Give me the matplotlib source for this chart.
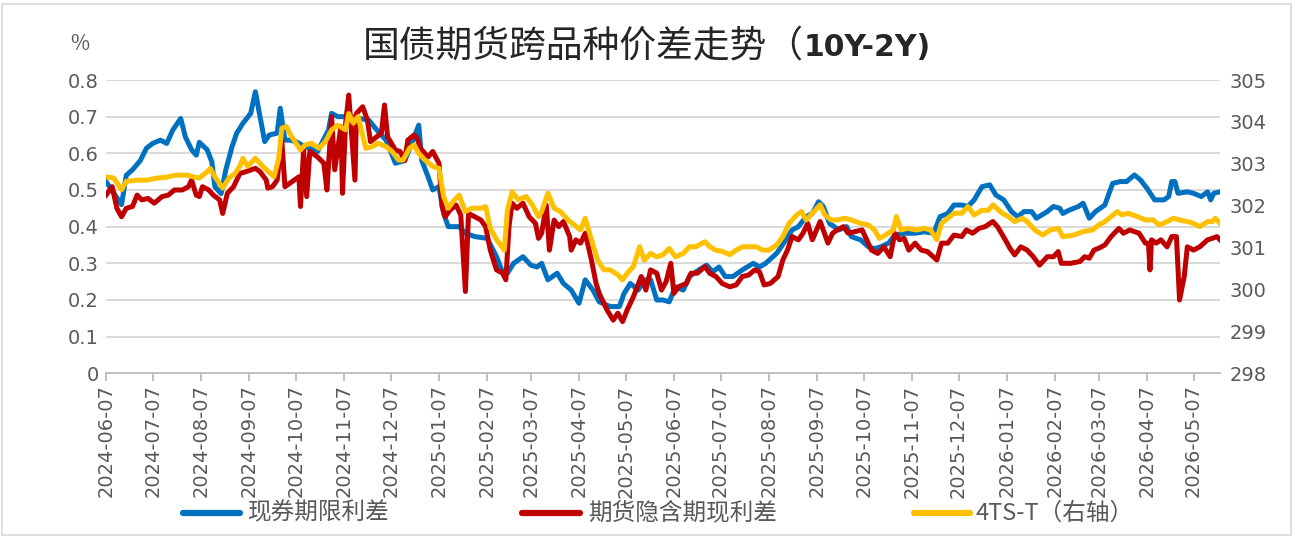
import matplotlib
matplotlib.use('Agg')
import matplotlib.pyplot as plt
import matplotlib.dates as mdates
import matplotlib.ticker as mticker
import pandas as pd
import numpy as np
from matplotlib.lines import Line2D
from matplotlib.patches import Rectangle

plt.rcParams['font.family'] = ['Noto Sans CJK SC', 'DejaVu Sans']

# ---------------- data ----------------
START = '2024-06-07'   # day offsets below are calendar days from this date
X_END = '2026-05-24'

series_names = ['现券期限利差', '期货隐含期现利差', '4TS-T（右轴）']

blue_days = [0, 10, 13, 17, 22, 26, 30, 35, 39, 43, 48, 51, 55, 58, 60, 65, 68, 70, 74, 77,
             81, 84, 88, 93, 96, 99, 102, 105, 110, 112, 115, 118,
             122, 128, 136, 143, 145, 149, 158, 169, 174, 180, 186, 192, 197, 201, 203, 207,
             210, 214, 217, 220, 227, 231, 237,
             245, 251, 256, 258, 262, 268, 273, 277, 280, 284, 290, 294, 299, 304, 308, 313,
             317, 324, 330, 333, 337, 342, 346, 350, 354,
             358, 362, 366, 371, 375, 381, 386, 390, 394, 398, 403, 409, 416, 420, 424, 431,
             437, 441, 445, 450, 454, 458, 461, 465, 471, 476,
             479, 485, 490, 494, 498, 503, 507, 513, 520, 526, 532, 536, 541, 545, 550, 554,
             558, 563, 568, 572, 577, 582, 586, 590, 595,
             598, 605, 609, 613, 615, 619, 625, 628, 632, 636, 642, 647, 652, 656, 661, 665,
             669, 674, 680, 683, 685, 687, 689, 695, 699, 704, 708, 710, 712, 716]
blue_vals = [0.523, 0.46, 0.54, 0.555, 0.58, 0.614, 0.627, 0.636, 0.627, 0.664, 0.695, 0.645,
             0.61, 0.595, 0.63, 0.61, 0.577, 0.509, 0.49, 0.555,
             0.618, 0.655, 0.682, 0.709, 0.768, 0.70, 0.632, 0.65, 0.655, 0.723, 0.636, 0.636,
             0.632, 0.618, 0.605, 0.664, 0.709, 0.70, 0.70, 0.69, 0.664, 0.636, 0.573, 0.58,
             0.632, 0.677, 0.58, 0.536,
             0.50, 0.509, 0.436, 0.40, 0.40, 0.382, 0.373,
             0.368, 0.318, 0.264, 0.273, 0.30, 0.318, 0.295, 0.29, 0.30, 0.255, 0.273, 0.245,
             0.227, 0.191, 0.255, 0.227,
             0.195, 0.182, 0.182, 0.218, 0.245, 0.227, 0.255, 0.255, 0.20,
             0.20, 0.195, 0.236, 0.227, 0.264, 0.282, 0.295, 0.277, 0.29, 0.264, 0.264, 0.282,
             0.30, 0.29, 0.30, 0.327,
             0.364, 0.391, 0.40, 0.427, 0.436, 0.468, 0.455, 0.409, 0.391, 0.40,
             0.373, 0.364, 0.345, 0.34, 0.345, 0.355, 0.377, 0.382, 0.382, 0.386, 0.382, 0.427,
             0.436, 0.459, 0.459, 0.455,
             0.473, 0.509, 0.514, 0.486, 0.473, 0.441, 0.427, 0.441, 0.441,
             0.423, 0.441, 0.455, 0.45, 0.436, 0.445, 0.455, 0.464, 0.423, 0.441, 0.459, 0.518,
             0.523, 0.523, 0.541, 0.527,
             0.505, 0.473, 0.473, 0.482, 0.523, 0.523, 0.491, 0.495, 0.491, 0.482, 0.495, 0.473,
             0.491, 0.495]

red_days = [0, 4, 7, 10, 13, 17, 20, 23, 27, 31, 36, 40, 44, 49, 53, 55, 58, 60, 62, 66,
            69, 73, 75, 78, 82, 86, 90, 96, 99, 103, 104, 107, 110, 113, 115, 118,
            124, 125, 127, 129, 131, 136, 140, 142, 145, 147, 151, 152, 154, 156, 158, 160,
            161, 165, 168, 170, 174, 177, 179, 181, 186, 189, 192, 194, 198, 200, 202, 207,
            210, 214, 216, 218, 221, 225, 228, 231, 233, 237,
            241, 244, 247, 251, 255, 257, 259, 261, 264, 268, 272, 276, 278, 280, 283, 285,
            288, 291, 294, 298, 299, 302, 305, 308, 312, 315, 317, 322, 326, 329, 332, 335,
            339, 344, 347, 350, 354,
            357, 360, 363, 365, 368, 373, 376, 380, 385, 388, 392, 396, 401, 405, 409, 413,
            417, 420, 423, 427, 432, 435, 438, 441, 445, 448, 451, 454, 459, 461, 464, 467,
            470, 474,
            477, 481, 486, 492, 496, 500, 504, 507, 510, 513, 516, 520, 524, 528, 534, 537,
            541, 545, 550, 553, 557, 561, 565, 570, 573, 578, 581, 584, 588,
            592, 596, 600, 605, 609, 612, 614, 620, 626, 629, 632, 635, 638, 642, 646, 651,
            654, 658, 664, 668, 670, 671, 672, 675, 678, 682, 685, 688, 690, 693, 695, 699,
            703, 708, 711, 714, 716]
red_vals = [0.486, 0.509, 0.45, 0.427, 0.45, 0.455, 0.486, 0.473, 0.477, 0.464, 0.482, 0.486,
            0.50, 0.50, 0.509, 0.527, 0.486, 0.482, 0.509, 0.50,
            0.486, 0.473, 0.436, 0.491, 0.509, 0.545, 0.55, 0.559, 0.55, 0.527, 0.505, 0.509,
            0.527, 0.636, 0.509, 0.518,
            0.536, 0.455, 0.609, 0.482, 0.605, 0.59, 0.573, 0.50, 0.70, 0.555, 0.673, 0.491,
            0.682, 0.759, 0.641, 0.527,
            0.709, 0.727, 0.691, 0.632, 0.645, 0.655, 0.732, 0.645, 0.609, 0.605, 0.58, 0.636,
            0.65, 0.641, 0.614, 0.59,
            0.605, 0.573, 0.455, 0.427, 0.445, 0.459, 0.432, 0.223, 0.436, 0.427,
            0.418, 0.40, 0.336, 0.282, 0.273, 0.255, 0.40, 0.464, 0.45, 0.464, 0.427, 0.409,
            0.368, 0.382, 0.459, 0.336,
            0.418, 0.40, 0.414, 0.373, 0.336, 0.364, 0.355, 0.382, 0.309, 0.245, 0.218, 0.173,
            0.145, 0.164, 0.141, 0.173,
            0.209, 0.264, 0.227, 0.282, 0.273,
            0.227, 0.25, 0.30, 0.218, 0.236, 0.245, 0.273, 0.273, 0.291, 0.273, 0.264, 0.245,
            0.236, 0.241, 0.264, 0.268,
            0.282, 0.277, 0.241, 0.245, 0.264, 0.309, 0.336, 0.373, 0.364, 0.382, 0.409, 0.364,
            0.414, 0.391, 0.355, 0.382,
            0.391, 0.40,
            0.382, 0.386, 0.391, 0.336, 0.327, 0.345, 0.318, 0.382, 0.364, 0.368, 0.336, 0.355,
            0.336, 0.332, 0.309, 0.355,
            0.355, 0.377, 0.373, 0.391, 0.382, 0.395, 0.40, 0.414, 0.40, 0.364, 0.341, 0.323,
            0.345,
            0.336, 0.318, 0.295, 0.318, 0.318, 0.332, 0.30, 0.30, 0.305, 0.318, 0.314, 0.336,
            0.341, 0.35, 0.373, 0.395,
            0.382, 0.391, 0.382, 0.355, 0.355, 0.282, 0.364, 0.355, 0.364, 0.345, 0.373, 0.373,
            0.20, 0.264, 0.345, 0.336,
            0.345, 0.364, 0.368, 0.373, 0.364]

yellow_days = [0, 5, 10, 13, 20, 26, 33, 39, 45, 52, 56, 60, 65, 67, 70, 75, 79, 83, 86, 88,
               91, 96, 99, 103, 108, 111, 113, 116, 118,
               120, 125, 128, 132, 137, 141, 145, 149, 154, 156, 159, 162, 167, 171, 175, 180,
               184, 188, 191, 195, 198, 201, 205, 210, 214, 217, 220, 224, 227, 231, 235,
               241, 244, 247, 251, 256, 258, 261, 265, 270, 274, 278, 280, 284, 288, 292, 297,
               301, 305, 308, 312, 316, 320, 324, 329, 332, 335, 339, 343, 346, 350, 354,
               358, 362, 366, 371, 375, 379, 385, 388, 392, 396, 401, 405, 409, 413, 418, 422,
               426, 431, 435, 439, 444, 447, 450, 454, 459, 462, 466, 470, 475,
               479, 485, 490, 494, 497, 501, 506, 508, 511, 515, 521, 526, 530, 534, 537, 541,
               545, 550, 554, 558, 563, 567, 570, 576, 580, 584, 589,
               592, 597, 602, 607, 612, 615, 622, 628, 634, 638, 642, 646, 650, 653, 657, 663,
               668, 673, 677, 682, 686, 690, 695, 699, 703, 708, 711, 713, 716]
yellow_vals = [302.69, 302.66, 302.38, 302.58, 302.61, 302.61, 302.66, 302.68, 302.73, 302.73,
               302.69, 302.66, 302.81, 302.89, 302.69, 302.42, 302.66, 302.77, 302.94, 303.13,
               302.94, 303.13, 303.01, 302.86, 302.69, 303.13, 303.85, 303.89, 303.73,
               303.61, 303.33, 303.45, 303.49, 303.37, 303.53, 303.81, 303.92, 303.81, 304.20,
               303.97, 304.13, 303.37, 303.41, 303.49, 303.41,
               303.29, 303.09, 303.09, 303.37, 303.45, 303.25, 303.09, 302.94, 302.89, 302.22,
               301.94, 302.14, 302.25, 301.86, 301.94,
               301.94, 301.98, 301.46, 301.19, 300.94, 301.89, 302.33, 302.14, 302.22, 302.02,
               301.74, 301.86, 302.30, 301.94, 301.86, 301.66,
               301.54, 301.42, 301.70, 301.19, 300.70, 300.47, 300.47, 300.35, 300.23, 300.39,
               300.55, 301.02, 300.70, 300.86, 300.78,
               300.83, 300.98, 300.78, 300.86, 301.02, 301.02, 301.14, 301.02, 300.94, 300.91,
               300.83, 300.94, 301.02, 301.02, 301.02, 300.94,
               300.94, 301.06, 301.26, 301.58, 301.78, 301.86, 301.66, 301.82, 302.02, 301.78,
               301.66, 301.66, 301.70,
               301.66, 301.58, 301.54, 301.42, 301.22, 301.30, 301.42, 301.74, 301.42, 301.46,
               301.42, 301.46, 301.42, 301.19, 301.58, 301.70,
               301.82, 301.82, 301.98, 301.78, 301.89, 301.89, 302.02, 301.82, 301.74, 301.62,
               301.70,
               301.62, 301.42, 301.30, 301.42, 301.46, 301.26, 301.30, 301.38, 301.42, 301.54,
               301.62, 301.74, 301.86, 301.78, 301.82, 301.74,
               301.66, 301.66, 301.54, 301.62, 301.70, 301.66, 301.62, 301.58, 301.50, 301.62,
               301.62, 301.70, 301.58]

left_ticks = [0, 0.1, 0.2, 0.3, 0.4, 0.5, 0.6, 0.7, 0.8]
right_ticks = [298, 299, 300, 301, 302, 303, 304, 305]

title_cn = '国债期货跨品种价差走势（'
title_en = '10Y-2Y)'

# ---------------- styling ----------------
C_BLUE = '#0070C0'
C_RED = '#C00000'
C_YEL = '#FFC000'
C_TXT = '#595959'
C_GRID = '#D9D9D9'
C_AX = '#BFBFBF'

W, H = 1295, 537


def to_dates(days):
    return pd.Timestamp(START) + pd.to_timedelta(np.asarray(days), unit='D')


fig = plt.figure(figsize=(W / 100, H / 100), dpi=100)
ax = fig.add_axes([106 / W, 1 - 373.3 / H, (1220 - 106) / W, (373.3 - 80) / H])
ax2 = ax.twinx()

lw = 3.6
ax.plot(to_dates(blue_days), blue_vals, color=C_BLUE, lw=lw, solid_joinstyle='round',
        zorder=3)
ax.plot(to_dates(red_days), red_vals, color=C_RED, lw=lw, solid_joinstyle='round', zorder=4)
ax2.plot(to_dates(yellow_days), yellow_vals, color=C_YEL, lw=lw, solid_joinstyle='round',
         zorder=5)

ax.set_ylim(0, 0.8)
ax2.set_ylim(298, 305)
ax.set_xlim(pd.Timestamp(START), pd.Timestamp(X_END))

ax.set_yticks(left_ticks)
ax.yaxis.set_major_formatter(mticker.FuncFormatter(lambda v, p: '0' if abs(v) < 1e-9 else f'{v:.1f}'))
ax2.set_yticks(right_ticks)
ax2.yaxis.set_major_formatter(mticker.FuncFormatter(lambda v, p: f'{v:.0f}'))

ax.yaxis.grid(True, color=C_GRID, lw=1.4)
ax.set_axisbelow(True)

for a in (ax, ax2):
    for s in ('left', 'right', 'top'):
        a.spines[s].set_visible(False)
ax.spines['bottom'].set_color(C_AX)
ax.spines['bottom'].set_linewidth(1.4)
ax2.spines['bottom'].set_visible(False)

ax.xaxis.set_major_locator(mdates.MonthLocator(bymonthday=7))
ax.xaxis.set_major_formatter(mdates.DateFormatter('%Y-%m-%d'))
ax.tick_params(axis='x', direction='out', length=6, width=1.4, color=C_AX,
               labelrotation=90, labelsize=14, labelcolor=C_TXT, pad=2)
ax.tick_params(axis='y', length=0, labelsize=14, labelcolor=C_TXT, pad=5)
ax2.tick_params(axis='y', length=0, labelsize=14, labelcolor=C_TXT, pad=7)
for lab in ax.get_xticklabels():
    lab.set_fontfamily(['DejaVu Sans'])
for lab in ax.get_yticklabels() + ax2.get_yticklabels():
    lab.set_fontfamily(['DejaVu Sans'])

# title
split_x = 804 / W
fig.text(split_x, 1 - 47 / H, title_cn, ha='right', va='center', fontsize=26.5, color='#262626')
fig.text(split_x, 1 - 47 / H, title_en, ha='left', va='center', fontsize=21.5, color='#262626',
         fontweight='bold', family=['DejaVu Sans'])
fig.text(80 / W, 1 - 44 / H, '%', ha='center', va='center', fontsize=15, color=C_TXT)

# legend
ly = 1 - 513 / H
items = [(183, 240, 248, C_BLUE, series_names[0]),
         (522, 580, 588, C_RED, series_names[1]),
         (914, 970, 976, C_YEL, series_names[2])]
for x0, x1, xt, c, name in items:
    fig.add_artist(Line2D([x0 / W, x1 / W], [ly, ly], color=c, lw=4.5,
                          solid_capstyle='round', transform=fig.transFigure))
    fig.text(xt / W, ly, name, ha='left', va='center', fontsize=17, color=C_TXT)

# outer frame
fig.add_artist(Rectangle((2 / W, 2 / H), (W - 6) / W, (H - 6) / H, transform=fig.transFigure,
                         fill=False, edgecolor=C_GRID, lw=1.2))

fig.savefig('out.png', dpi=100)
